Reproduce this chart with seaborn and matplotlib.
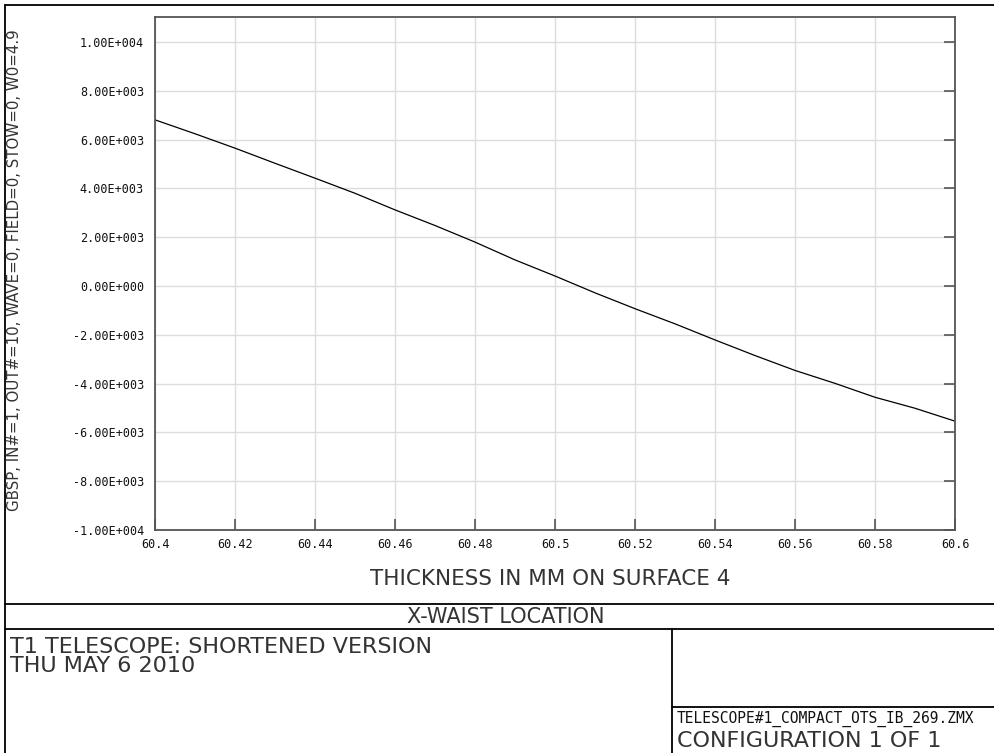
import matplotlib
matplotlib.use("Agg")
import math
import matplotlib.pyplot as plt
from matplotlib.lines import Line2D
import seaborn as sns
import pandas as pd

# ---- data ----
thickness = [60.40, 60.41, 60.42, 60.43, 60.44, 60.45, 60.46, 60.47, 60.48, 60.49,
             60.50, 60.51, 60.52, 60.53, 60.54, 60.55, 60.56, 60.57, 60.58, 60.59, 60.60]
waist_loc = [6810, 6240, 5650, 5030, 4420, 3800, 3120, 2480, 1800, 1070,
             410, -280, -930, -1550, -2210, -2850, -3460, -3990, -4560, -5010, -5540]
x_ticks = [60.40, 60.42, 60.44, 60.46, 60.48, 60.50, 60.52, 60.54, 60.56, 60.58, 60.60]
x_tick_labels = ["60.4", "60.42", "60.44", "60.46", "60.48", "60.5",
                 "60.52", "60.54", "60.56", "60.58", "60.6"]
y_ticks = [-10000, -8000, -6000, -4000, -2000, 0, 2000, 4000, 6000, 8000, 10000]

y_label = "GBSP, IN#=1, OUT#=10, WAVE=0, FIELD=0, STOW=0, W0=4.9"
x_label = "THICKNESS IN MM ON SURFACE 4"
title = "X-WAIST LOCATION"
info_lines = ["T1 TELESCOPE: SHORTENED VERSION", "THU MAY 6 2010"]
file_name = "TELESCOPE#1_COMPACT_OTS_IB_269.ZMX"
config = "CONFIGURATION 1 OF 1"


def sci_label(v):
    if v == 0:
        return "0.00E+000"
    e = int(math.floor(math.log10(abs(v))))
    m = v / 10 ** e
    return f"{m:.2f}E{'+' if e >= 0 else '-'}{abs(e):03d}"


df = pd.DataFrame({"thickness": thickness, "waist": waist_loc})

sns.set_theme(style="white")
plt.rcParams["font.family"] = ["DejaVu Sans"]

W, H = 995, 753
fig = plt.figure(figsize=(W / 100, H / 100), dpi=100)
fig.patch.set_facecolor("white")


def fx(px):
    return px / W


def fy(py):
    return 1 - py / H


ax_l, ax_r, ax_t, ax_b = 155, 955, 17, 530
ax = fig.add_axes([fx(ax_l), fy(ax_b), (ax_r - ax_l) / W, (ax_b - ax_t) / H])

sns.lineplot(data=df, x="thickness", y="waist", color="black", linewidth=0.9, ax=ax)

ax.set_xlim(60.40, 60.60)
ax.set_ylim(-10000, 11025)
ax.set_xticks(x_ticks)
ax.set_xticklabels(x_tick_labels, fontfamily="DejaVu Sans Mono", fontsize=8.5)
ax.set_yticks(y_ticks)
ax.set_yticklabels([sci_label(v) for v in y_ticks], fontfamily="DejaVu Sans Mono", fontsize=8.5)
ax.grid(True, color="#dcdcdc", linewidth=1)
ax.tick_params(axis="both", direction="in", length=8, width=1.2, color="#555555",
               labelcolor="#111111", pad=8)
ax.tick_params(axis="y", right=True, labelright=False)
ax.tick_params(axis="x", top=False, bottom=True, pad=6)
for s in ax.spines.values():
    s.set_visible(True)
    s.set_color("#555555")
    s.set_linewidth(1.3)

ax.set_xlabel(x_label, fontsize=15.5, color="#333333")
ax.xaxis.set_label_coords(0.4935, -(585 - ax_b) / (ax_b - ax_t), transform=ax.transAxes)
ax.xaxis.label.set_verticalalignment("baseline")
ax.set_ylabel(y_label, fontsize=10.8, color="#333333")
ax.yaxis.set_label_coords((22 - ax_l) / (ax_r - ax_l), (ax_b - 270) / (ax_b - ax_t))


# frame / footer lines
def hline(y, x0, x1):
    fig.add_artist(Line2D([fx(x0), fx(x1)], [fy(y), fy(y)], color="black", linewidth=1.3))


def vline(x, y0, y1):
    fig.add_artist(Line2D([fx(x), fx(x)], [fy(y0), fy(y1)], color="black", linewidth=1.3))


hline(4.5, 5, W)
vline(5, 4.5, H)
hline(604, 5, W)
hline(629, 5, W)
vline(672, 629, H)
hline(707, 672, W)

fig.text(fx(506), fy(623), title, fontsize=15, ha="center", va="baseline", color="#333333")
fig.text(fx(10), fy(653), info_lines[0], fontsize=16, ha="left", va="baseline", color="#333333")
fig.text(fx(10), fy(672), info_lines[1], fontsize=16, ha="left", va="baseline", color="#333333")
fig.text(fx(677), fy(723), file_name, fontsize=10.5, fontfamily="DejaVu Sans Mono",
         ha="left", va="baseline", color="#111111")
fig.text(fx(677), fy(747), config, fontsize=16, ha="left", va="baseline", color="#333333")

fig.savefig("out.png", dpi=100, facecolor="white")
